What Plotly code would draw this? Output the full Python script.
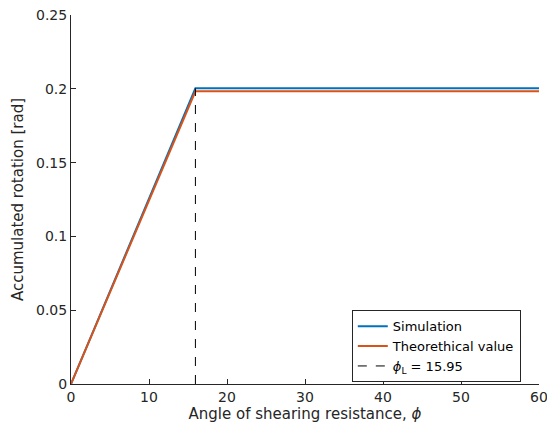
import plotly.graph_objects as go

phi_sim = [0, 15.95, 60]
rot_sim = [0, 0.2003, 0.2003]
phi_theo = [0, 15.95, 60]
rot_theo = [0, 0.1983, 0.1983]
phi_L = 15.95
dash_y = [0, 0.2003]

x_ticks = [0, 10, 20, 30, 40, 50, 60]
y_ticks = [0, 0.05, 0.1, 0.15, 0.2, 0.25]
y_labels = ["0", "0.05", "0.1", "0.15", "0.2", "0.25"]

axcol = "#262626"
fig = go.Figure()
fig.add_trace(go.Scatter(x=phi_sim, y=rot_sim, mode="lines", name="Simulation",
                         line=dict(color="#0072BD", width=2)))
fig.add_trace(go.Scatter(x=phi_theo, y=rot_theo, mode="lines", name="Theorethical value",
                         line=dict(color="#D95319", width=2)))
fig.add_trace(go.Scatter(x=[phi_L, phi_L], y=dash_y, mode="lines",
                         name="<i>ϕ</i><sub>L</sub> = %.2f" % phi_L,
                         line=dict(color="black", width=1, dash="dash")))

fig.update_layout(
    width=547, height=432,
    margin=dict(l=71, r=8, t=15, b=48, autoexpand=False),
    plot_bgcolor="white", paper_bgcolor="white",
    font=dict(family="DejaVu Sans", size=13, color=axcol),
    showlegend=True,
    legend=dict(x=0.6, y=0.2, xanchor="left", yanchor="top",
                bordercolor=axcol, borderwidth=1, bgcolor="white",
                font=dict(size=13, color="black"), tracegroupgap=0,
                itemwidth=30),
    xaxis=dict(range=[0, 60], tickvals=x_ticks, ticks="inside", ticklen=5,
               tickcolor=axcol, showline=True, linecolor=axcol, linewidth=1,
               showgrid=False, zeroline=False, mirror=False, automargin=False,
               ticklabeloverflow="allow",
               tickfont=dict(size=14),
               title=dict(text="Angle of shearing resistance, <i>ϕ</i>", font=dict(size=15), standoff=4)),
    yaxis=dict(range=[0, 0.25], tickvals=y_ticks, ticktext=y_labels, ticks="inside", ticklen=5,
               tickcolor=axcol, showline=True, linecolor=axcol, linewidth=1,
               showgrid=False, zeroline=False, mirror=False, automargin=False,
               ticklabeloverflow="allow",
               tickfont=dict(size=14),
               title=dict(text="Accumulated rotation [rad]", font=dict(size=15), standoff=8)),
)
fig.write_html("out.html")
